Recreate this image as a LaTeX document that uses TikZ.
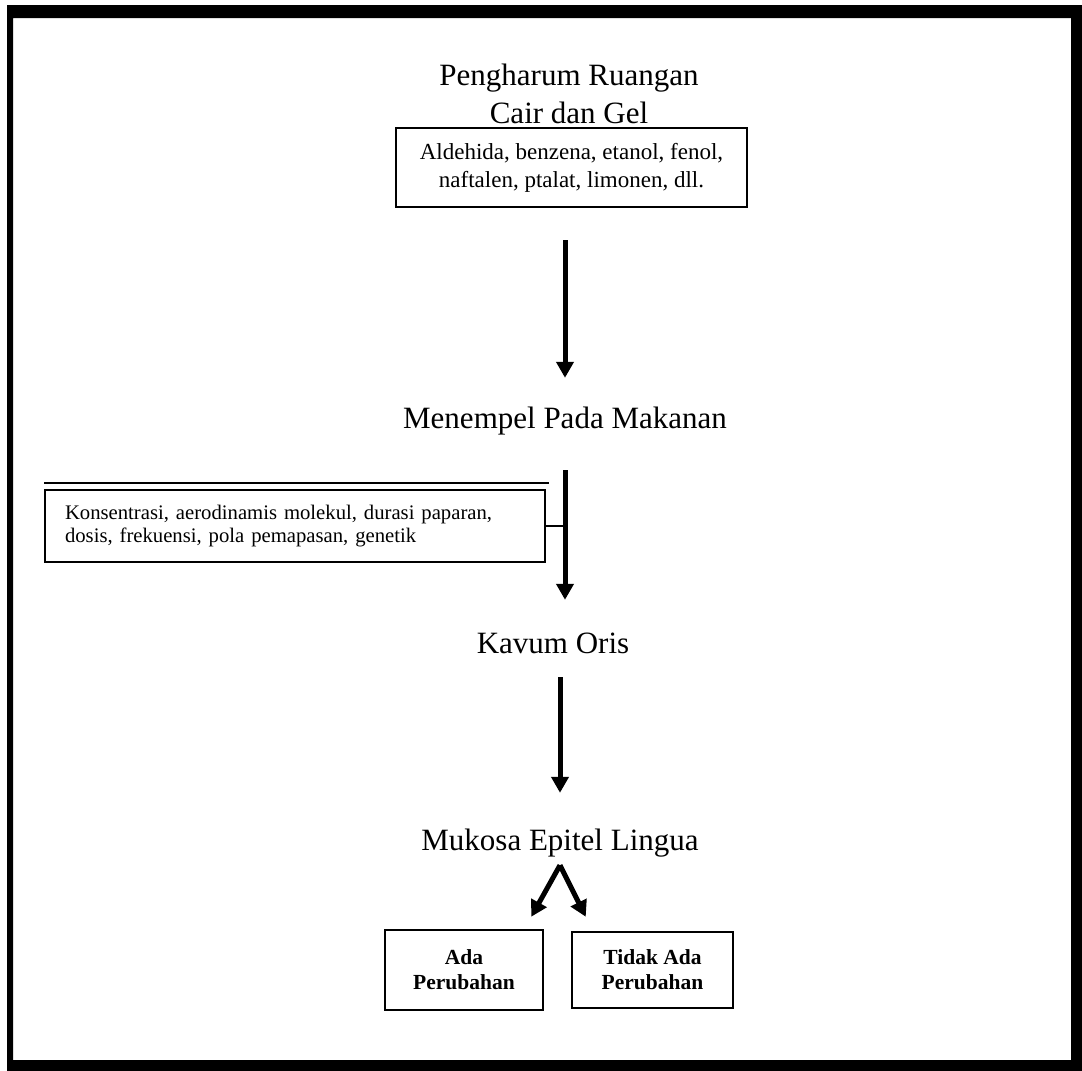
\documentclass[tikz,border=0pt]{standalone}
\usepackage{fontspec}
\setmainfont{Liberation Serif}
\usetikzlibrary{arrows.meta}
\tikzset{
  title/.style={inner sep=0pt, align=center, font=\fontsize{31}{38}\selectfont},
  label31/.style={inner sep=0pt, anchor=base, text height=21pt, text depth=7pt, font=\fontsize{31}{38}\selectfont},
  box/.style={draw, line width=2.2pt, inner sep=0pt},
  arr/.style={line width=5pt, -{Triangle[width=17pt,length=16pt]}},
}
\begin{document}
\begin{tikzpicture}[x=1pt,y=-1pt]
\useasboundingbox (0,0) rectangle (1082,1071);
% outer frame
\fill[even odd rule] (7,5) rectangle (1082,1071) (13,18) rectangle (1071,1060);

\node[title, anchor=north] (title) at (569,64) {Pengharum Ruangan\\Cair dan Gel};
\node[box, minimum width=351pt, minimum height=79pt, align=center,
      font=\fontsize{23}{28}\selectfont] (chem) at (571.5,167.5)
      {Aldehida, benzena, etanol, fenol,\\naftalen, ptalat, limonen, dll.};

\node[label31] (makan) at (565,428) {Menempel Pada Makanan};
\node[box, line width=2pt, text width=460pt, inner xsep=20pt, minimum height=72pt, align=left,
      font=\fontsize{20.7}{23}\selectfont] (fac) at (295,526)
      {Konsentrasi, aerodinamis molekul, durasi paparan,\\dosis, frekuensi, pola pemapasan, genetik};
\node[label31] (kavum) at (553,653) {Kavum Oris};
\node[label31] (muk) at (560,850) {Mukosa Epitel Lingua};

\node[box, line width=2.5pt, minimum width=158pt, minimum height=80pt, align=center,
      font=\fontsize{21.5}{25}\selectfont\bfseries] (ada) at (464,970) {Ada\\Perubahan};
\node[box, line width=2.5pt, minimum width=161pt, minimum height=76pt, align=center,
      font=\fontsize{21.5}{25}\selectfont\bfseries] (tidak) at (652.5,970) {Tidak Ada\\Perubahan};

% arrows
\draw[arr, shorten <=32pt, shorten >=29pt] (chem.south -| makan.south) -- (makan.north);
\draw[arr, shorten <=35pt, shorten >=32pt] (makan.south) -- (makan.south |- kavum.north);
\draw[arr, shorten <=17pt, shorten >=36pt] (kavum.south -| muk.south) -- (muk.north);
\draw[line width=2pt] (fac.east) -- (fac.east -| makan.south);
\draw[line width=1.5pt] ([yshift=6pt]fac.north west) -- ([xshift=3pt,yshift=6pt]fac.north east);
\draw[arr] ([yshift=-8pt]muk.south) -- ([xshift=-13pt,yshift=12pt]ada.north east);
\draw[arr] ([yshift=-8pt]muk.south) -- ([xshift=15pt,yshift=14pt]tidak.north west);
\end{tikzpicture}
\end{document}
